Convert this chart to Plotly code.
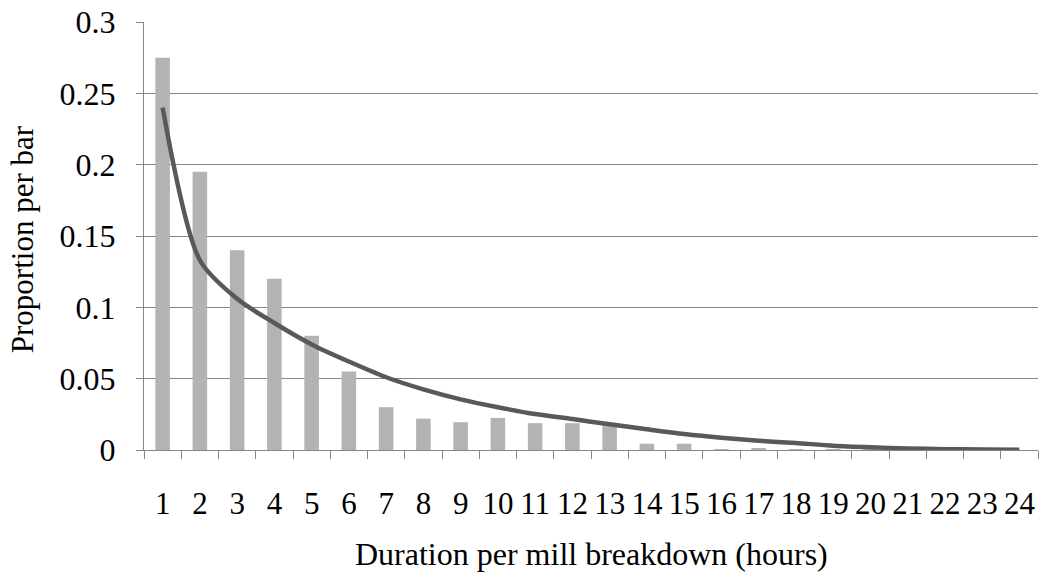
import plotly.graph_objects as go

categories = [str(i) for i in range(1, 25)]
bar_values = [0.275, 0.195, 0.14, 0.12, 0.08, 0.055, 0.030, 0.022, 0.0195, 0.0225,
              0.0188, 0.0188, 0.019, 0.0044, 0.0044, 0.0007, 0.0014, 0.0004,
              0.0002, 0.0001, 0.0, 0.0, 0.0, 0.0]
fit_values = [0.240, 0.133, 0.106, 0.089, 0.074, 0.062, 0.051, 0.0425, 0.0355, 0.030,
              0.0252, 0.0217, 0.018, 0.0145, 0.0112, 0.0086, 0.0065, 0.0049,
              0.0030, 0.0019, 0.0011, 0.0006, 0.0003, 0.0001]
y_ticks = [0, 0.05, 0.1, 0.15, 0.2, 0.25, 0.3]
y_tick_labels = ["0", "0.05", "0.1", "0.15", "0.2", "0.25", "0.3"]

FONT = "Liberation Serif, Times New Roman, serif"
AXIS_GRAY = "#868686"
FS = 32

fig = go.Figure()
fig.add_trace(go.Bar(x=categories, y=bar_values, marker=dict(color="#b3b3b3", line=dict(width=0)),
                     showlegend=False))
fig.add_trace(go.Scatter(x=categories, y=fit_values, mode="lines",
                         line=dict(color="#595959", width=4.5, shape="spline", smoothing=0.8),
                         showlegend=False))

W, H = 1043, 572
ml, mr, mt, mb = 144, 5, 21.6, 122
ph = H - mt - mb
pw = W - ml - mr


def py(v):
    return ((H - mb) - v) / ph


def px(v):
    return (v - ml) / pw


fig.update_layout(
    width=W, height=H,
    margin=dict(l=ml, r=mr, t=mt, b=mb, pad=0),
    paper_bgcolor="white", plot_bgcolor="white",
    bargap=0.61,
    font=dict(family=FONT, size=FS, color="black"),
    xaxis=dict(type="category", tickmode="array", tickvals=categories, ticktext=categories,
               tickangle=0, tickson="boundaries", ticks="outside", ticklen=8,
               tickcolor=AXIS_GRAY, tickwidth=1.3, showline=True, linecolor=AXIS_GRAY,
               linewidth=1.3, showgrid=False, tickfont=dict(family=FONT, size=FS - 1),
               ticklabelstandoff=26, range=[-0.5, 23.5]),
    yaxis=dict(range=[0, 0.3], tickvals=y_ticks, ticktext=y_tick_labels, ticks="outside",
               ticklen=7, tickcolor=AXIS_GRAY, tickwidth=1.3, showline=True,
               linecolor=AXIS_GRAY, linewidth=1.3, showgrid=True, gridcolor=AXIS_GRAY,
               gridwidth=1.3, zeroline=False, tickfont=dict(family=FONT, size=FS),
               ticklabelstandoff=14),
    annotations=[
        dict(text="Duration per mill breakdown (hours)", xref="paper", yref="paper",
             x=px(591), y=py(554),
             showarrow=False, xanchor="center", yanchor="middle",
             font=dict(family=FONT, size=FS)),
        dict(text="Proportion per bar", xref="paper", yref="paper", textangle=-90,
             x=px(22), y=py(239),
             showarrow=False, xanchor="center", yanchor="middle",
             font=dict(family=FONT, size=FS - 1)),
    ],
)
fig.write_html("out.html")
